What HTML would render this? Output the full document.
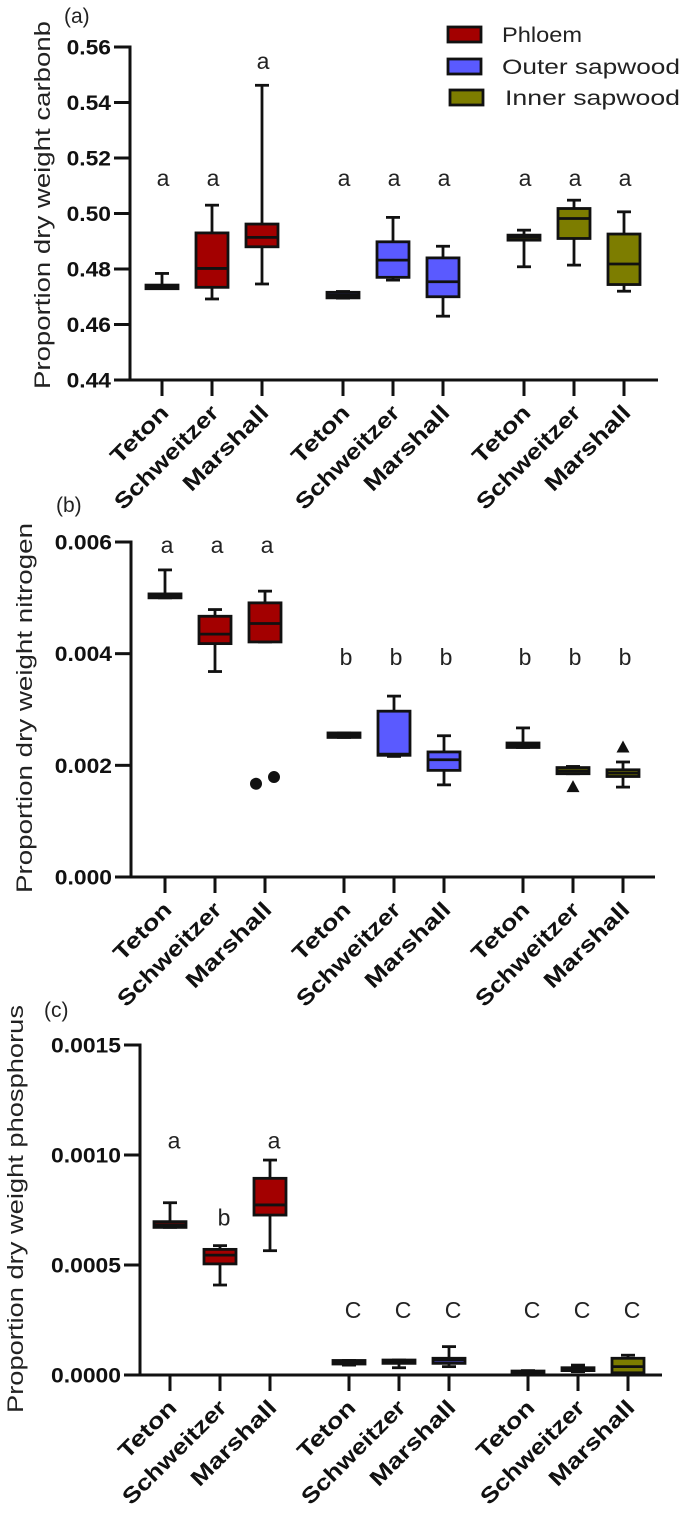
<!DOCTYPE html>
<html><head><meta charset="utf-8"><style>
html,body{margin:0;padding:0;background:#fff;}
svg{display:block;font-family:"Liberation Sans",Arial,sans-serif;}
</style></head><body>
<svg id="fig" width="685" height="1517" viewBox="0 0 685 1517" xmlns="http://www.w3.org/2000/svg"></svg>
<script>
// ---------- data ----------
const categories = ["Teton","Schweitzer","Marshall"];
const tissues = ["Phloem","Outer sapwood","Inner sapwood"];
const tissueColors = ["#a30000","#5a5aff","#7d7d00"];

// Carbon (panel a): 9 boxes = 3 tissues x 3 sites
const carbonMin = [0.4730,0.4692,0.4746, 0.4695,0.4760,0.4630, 0.4808,0.4814,0.4720];
const carbonQ1  = [0.4729,0.4734,0.4880, 0.4696,0.4770,0.4700, 0.4904,0.4910,0.4744];
const carbonMed = [0.4735,0.4802,0.4914, 0.4706,0.4832,0.4754, 0.4914,0.4982,0.4818];
const carbonQ3  = [0.4742,0.4930,0.4962, 0.4716,0.4898,0.4840, 0.4922,0.5018,0.4926];
const carbonMax = [0.4784,0.5030,0.5462, 0.4719,0.4986,0.4882, 0.4940,0.5048,0.5006];
const carbonLetters = ["a","a","a","a","a","a","a","a","a"];
const carbonLetterY = [0.510,0.510,0.552,0.510,0.510,0.510,0.510,0.510,0.510];
const carbonTicks = [0.44,0.46,0.48,0.50,0.52,0.54,0.56];
const carbonTickLabels = ["0.44","0.46","0.48","0.50","0.52","0.54","0.56"];

// Nitrogen (panel b)
const nitroMin = [0.00500,0.00368,0.00421, 0.00250,0.00216,0.00165, 0.00232,0.00185,0.00161];
const nitroQ1  = [0.00500,0.00418,0.00421, 0.00250,0.00218,0.00191, 0.00232,0.00185,0.00180];
const nitroMed = [0.00504,0.00435,0.00454, 0.00254,0.00220,0.00210, 0.00236,0.00190,0.00186];
const nitroQ3  = [0.00507,0.00467,0.00491, 0.00258,0.00297,0.00224, 0.00240,0.00196,0.00192];
const nitroMax = [0.00550,0.00479,0.00512, 0.00258,0.00324,0.00253, 0.00267,0.00198,0.00206];
const nitroLetters = ["a","a","a","b","b","b","b","b","b"];
const nitroLetterY = [0.0058,0.0058,0.0058,0.0038,0.0038,0.0038,0.0038,0.0038,0.0038];
const nitroOutCat = [2,2,7,8];
const nitroOutVal = [0.00167,0.00179,0.00161,0.00232];
const nitroOutShape = ["circle","circle","triangle","triangle"];
const nitroTicks = [0,0.002,0.004,0.006];
const nitroTickLabels = ["0.000","0.002","0.004","0.006"];

// Phosphorus (panel c)
const phosMin = [0.000671,0.000409,0.000565, 0.000045,0.000033,0.000038, 0.000010,0.000015,0.000005];
const phosQ1  = [0.000671,0.000505,0.000727, 0.000050,0.000053,0.000053, 0.000012,0.000020,0.000010];
const phosMed = [0.000683,0.000545,0.000773, 0.000058,0.000062,0.000068, 0.000015,0.000025,0.000038];
const phosQ3  = [0.000697,0.000571,0.000894, 0.000066,0.000068,0.000076, 0.000018,0.000033,0.000076];
const phosMax = [0.000783,0.000588,0.000977, 0.000066,0.000068,0.000129, 0.000020,0.000045,0.000090];
const phosLetters = ["a","b","a","C","C","C","C","C","C"];
const phosLetterY = [0.00103,0.00068,0.00103,0.00026,0.00026,0.00026,0.00026,0.00026,0.00026];
const phosTicks = [0,0.0005,0.0010,0.0015];
const phosTickLabels = ["0.0000","0.0005","0.0010","0.0015"];

// ---------- drawing ----------
const NS = "http://www.w3.org/2000/svg";
const svg = document.getElementById("fig");
function mk(tag, attrs, parent){
  const e = document.createElementNS(NS, tag);
  for (const k in attrs) e.setAttribute(k, attrs[k]);
  (parent||svg).appendChild(e);
  return e;
}
const labelLen = {"Teton":72,"Schweitzer":137,"Marshall":111};

function panel(cfg){
  const g = mk("g", {});
  
  
  const y = v => cfg.yBot - (v - cfg.vmin) / (cfg.vmax - cfg.vmin) * (cfg.yBot - cfg.yTop);
  const x = i => cfg.xStart + (i % 3) * 50 + Math.floor(i / 3) * cfg.groupGap;

  // panel tag
  const tag = mk("text", {x: cfg.tagX, y: cfg.tagY, "font-size": 21, fill: "#222"}, g);
  tag.textContent = cfg.tag;
  
  

  // y axis title
  const tt = mk("text", {x: 0, y: 0, "font-size": 22, fill: "#222", "text-anchor": "middle",
    textLength: cfg.titleLen, lengthAdjust: "spacingAndGlyphs",
    transform: `translate(${cfg.titleX},${cfg.titleY}) rotate(-90)`}, g);
  tt.textContent = cfg.title;
  
  

  // axes
  const ya = mk("line", {x1: cfg.x0, y1: cfg.yTop - 1.5, x2: cfg.x0, y2: cfg.yBot + 1.5, stroke: "#111", "stroke-width": 3}, g);
  
  
  const xa = mk("line", {x1: cfg.x0 - 1.5, y1: cfg.yBot, x2: cfg.xEnd, y2: cfg.yBot, stroke: "#111", "stroke-width": 3}, g);
  
  

  cfg.ticks.forEach((t, k) => {
    const ty = y(t);
    const tl = mk("line", {x1: cfg.x0 - 16, y1: ty, x2: cfg.x0, y2: ty, stroke: "#111", "stroke-width": 3}, g);
    
    
    const lab = cfg.tickLabels[k];
    const tx = mk("text", {x: cfg.x0 - 19, y: ty + 7.5, "font-size": 21, "font-weight": "bold", fill: "#111",
      "text-anchor": "end", textLength: (lab.length - 1) * 12.8 + 6, lengthAdjust: "spacingAndGlyphs"}, g);
    tx.textContent = lab;
    
    
  });

  for (let i = 0; i < 9; i++){
    const cx = x(i);
    const xt = mk("line", {x1: cx, y1: cfg.yBot, x2: cx, y2: cfg.yBot + 16, stroke: "#111", "stroke-width": 3}, g);
    
    
    const name = categories[i % 3];
    const lx = cx + 8, ly = cfg.yBot + 34;
    const xl = mk("text", {x: 0, y: 0, "font-size": 22, "font-weight": "bold", fill: "#111", "text-anchor": "end",
      textLength: labelLen[name], lengthAdjust: "spacingAndGlyphs",
      transform: `translate(${lx},${ly}) rotate(-45)`}, g);
    xl.textContent = name;
    
    

    // box
    const bw = 32, cw = 14;
    const col = tissueColors[Math.floor(i / 3)];
    const bx = mk("g", {}, g);
    
    
    const st = {stroke: "#111", "stroke-width": 2.8};
    mk("line", Object.assign({x1: cx, y1: y(cfg.max[i]), x2: cx, y2: y(cfg.min[i])}, st), bx);
    mk("line", Object.assign({x1: cx - cw/2, y1: y(cfg.max[i]), x2: cx + cw/2, y2: y(cfg.max[i])}, st), bx);
    mk("line", Object.assign({x1: cx - cw/2, y1: y(cfg.min[i]), x2: cx + cw/2, y2: y(cfg.min[i])}, st), bx);
    const top = y(cfg.q3[i]), bot = y(cfg.q1[i]);
    mk("rect", Object.assign({x: cx - bw/2, y: top, width: bw, height: Math.max(bot - top, 1.5), fill: col}, st), bx);
    mk("line", Object.assign({x1: cx - bw/2, y1: y(cfg.med[i]), x2: cx + bw/2, y2: y(cfg.med[i])}, st), bx);

    const lt = mk("text", {x: cx + cfg.letterDx, y: y(cfg.letterY[i]), "font-size": 23, fill: "#222", "text-anchor": "middle"}, g);
    lt.textContent = cfg.letters[i];
    
    
  }

  if (cfg.outCat){
    cfg.outCat.forEach((c, k) => {
      const same = cfg.outCat.filter(v => v === c).length;
      const idx = cfg.outCat.slice(0, k).filter(v => v === c).length;
      const ox = x(c) + (same > 1 ? (idx === 0 ? -9 : 9) : 0);
      const oy = y(cfg.outVal[k]);
      let m;
      if (cfg.outShape[k] === "circle") m = mk("circle", {cx: ox, cy: oy, r: 6, fill: "#111"}, g);
      else m = mk("polygon", {points: `${ox},${oy-7} ${ox-6.5},${oy+5} ${ox+6.5},${oy+5}`, fill: "#111"}, g);
      
      
    });
  }
}

panel({name: "carbon-panel", tag: "(a)", tagX: 64, tagY: 23, title: "Proportion dry weight carbonb", titleX: 50, titleY: 205, titleLen: 368,
  x0: 130, xEnd: 658, yTop: 47, yBot: 380, vmin: 0.44, vmax: 0.56, xStart: 162, groupGap: 181,
  ticks: carbonTicks, tickLabels: carbonTickLabels,
  min: carbonMin, q1: carbonQ1, med: carbonMed, q3: carbonQ3, max: carbonMax,
  letters: carbonLetters, letterY: carbonLetterY, letterDx: 1});

panel({name: "nitrogen-panel", tag: "(b)", tagX: 56, tagY: 512, title: "Proportion dry weight nitrogen", titleX: 32, titleY: 708, titleLen: 370,
  x0: 131, xEnd: 655, yTop: 542, yBot: 877, vmin: 0, vmax: 0.006, xStart: 165, groupGap: 179,
  ticks: nitroTicks, tickLabels: nitroTickLabels,
  min: nitroMin, q1: nitroQ1, med: nitroMed, q3: nitroQ3, max: nitroMax,
  letters: nitroLetters, letterY: nitroLetterY, letterDx: 2,
  outCat: nitroOutCat, outVal: nitroOutVal, outShape: nitroOutShape});

panel({name: "phosphorus-panel", tag: "(c)", tagX: 44, tagY: 1017, title: "Proportion dry weight phosphorus", titleX: 23, titleY: 1209, titleLen: 408,
  x0: 140, xEnd: 662, yTop: 1045, yBot: 1375, vmin: 0, vmax: 0.0015, xStart: 170, groupGap: 179,
  ticks: phosTicks, tickLabels: phosTickLabels,
  min: phosMin, q1: phosQ1, med: phosMed, q3: phosQ3, max: phosMax,
  letters: phosLetters, letterY: phosLetterY, letterDx: 4});

// legend
const leg = mk("g", {});


const legY = [27, 59, 90];
const legTX = [502, 502, 505];
const legLen = [80, 178, 175];
tissues.forEach((t, k) => {
  const e = mk("g", {}, leg);
  
  
  mk("rect", {x: 448 + (k === 2 ? 2 : 0), y: legY[k], width: 33, height: 15, fill: tissueColors[k], stroke: "#111", "stroke-width": 2.8}, e);
  const tx = mk("text", {x: legTX[k], y: legY[k] + 15, "font-size": 21, fill: "#222", textLength: legLen[k], lengthAdjust: "spacingAndGlyphs"}, e);
  tx.textContent = t;
});
</script>
</body></html>
